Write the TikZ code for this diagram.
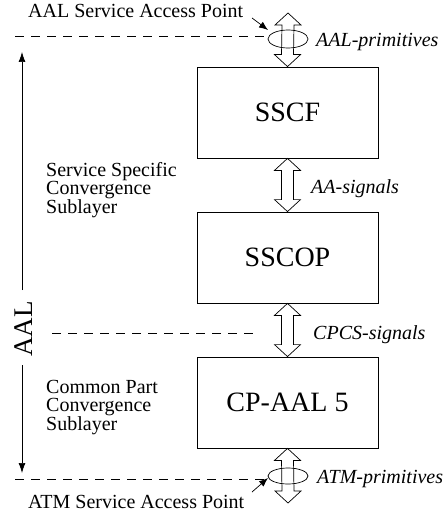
\documentclass[tikz,border=0pt]{standalone}
\usepackage{fontspec}
\setmainfont{Liberation Serif}
\usetikzlibrary{calc,arrows.meta,shapes.geometric}
\tikzset{
  box/.style={draw, line width=0.8pt, minimum width=181pt, minimum height=91pt, inner sep=0pt, font=\fontsize{28}{30}\selectfont},
  lbl/.style={inner sep=0pt, anchor=base west, font=\fontsize{20}{18.5}\selectfont},
  ilbl/.style={inner sep=0pt, anchor=base west, font=\fontsize{20}{18.5}\selectfont\itshape},
  blk/.style={inner sep=0pt, anchor=north west, align=left, font=\fontsize{20}{18.5}\selectfont},
  arr/.style={draw, line width=0.7pt, fill=white, line join=miter},
  sap/.style={draw, ellipse, line width=0.7pt, minimum width=40pt, minimum height=18pt, inner sep=0pt},
  dashline/.style={draw, line width=0.6pt, dash pattern=on 9pt off 7pt},
  ptr/.style={draw, line width=0.7pt, -{Latex[length=9pt,width=7pt]}},
  vert/.style={draw, line width=0.7pt, -{Latex[length=10pt,width=7pt]}},
}
\newcommand\dblarr[2]{\path[arr] (#1) -- ($(#1)+(13,12)$) -- ($(#1)+(6,12)$) -- ($(#2)+(6,-12)$) -- ($(#2)+(13,-12)$) -- (#2) -- ($(#2)+(-13,-12)$) -- ($(#2)+(-6,-12)$) -- ($(#1)+(-6,12)$) -- ($(#1)+(-13,12)$) -- cycle;}
\begin{document}
\begin{tikzpicture}[x=1pt,y=-1pt]
\useasboundingbox (0,0) rectangle (446,516);
% boxes
\node[box] (sscf)  at (287.5,112.5) {SSCF};
\node[box] (sscop) at (287.5,257.5) {SSCOP};
\node[box] (cpaal) at (287.5,402.5) {CP-AAL 5};
% end points of outer arrows
\coordinate (topend) at (288,13);
\coordinate (botend) at (288,503);
% double arrows
\dblarr{topend}{sscf.north}
\dblarr{sscf.south}{sscop.north}
\dblarr{sscop.south}{cpaal.north}
\dblarr{cpaal.south}{botend}
% service access points
\node[sap] (sapT) at (288,39) {};
\node[sap, minimum height=16pt] (sapB) at (288,476) {};
% dashed lines
\coordinate (d1a) at (15,36);  \coordinate (d1b) at (265,36);
\coordinate (d2a) at (52,333); \coordinate (d2b) at (258,333);
\coordinate (d3a) at (15,479); \coordinate (d3b) at (265,479);
\path[dashline] (d1a) -- (d1b);
\path[dashline] (d2a) -- (d2b);
\path[dashline] (d3a) -- (d3b);
% pointers
\coordinate (p1a) at (252,18); \coordinate (p1b) at (268,30);
\coordinate (p2a) at (252,492); \coordinate (p2b) at (268,478);
\path[ptr] (p1a) -- (p1b);
\path[ptr] (p2a) -- (p2b);
% AAL vertical arrow
\node[rotate=90, inner sep=0pt, font=\fontsize{27}{30}\selectfont] (aal) at (24,329) {AAL};
\coordinate (vtop) at (22,52);  \coordinate (vgapT) at (22,290);
\coordinate (vgapB) at (22,365); \coordinate (vbot) at (22,473);
\path[vert] (vgapT) -- (vtop);
\path[vert] (vgapB) -- (vbot);
% labels
\node[lbl] (aalsap) at (28,18) {AAL Service Access Point};
\node[lbl] (atmsap) at (28,508) {ATM Service Access Point};
\node[ilbl] (aalprim) at (316,47) {AAL-primitives};
\node[ilbl] (aasig) at (311,193) {AA-signals};
\node[ilbl] (cpcssig) at (313,339) {CPCS-signals};
\node[ilbl] (atmprim) at (317,483) {ATM-primitives};
\node[blk] (sscs) at (46,162) {Service Specific\\Convergence\\Sublayer};
\node[blk] (cpcs) at (46,380) {Common Part\\Convergence\\Sublayer};
\end{tikzpicture}
\end{document}
